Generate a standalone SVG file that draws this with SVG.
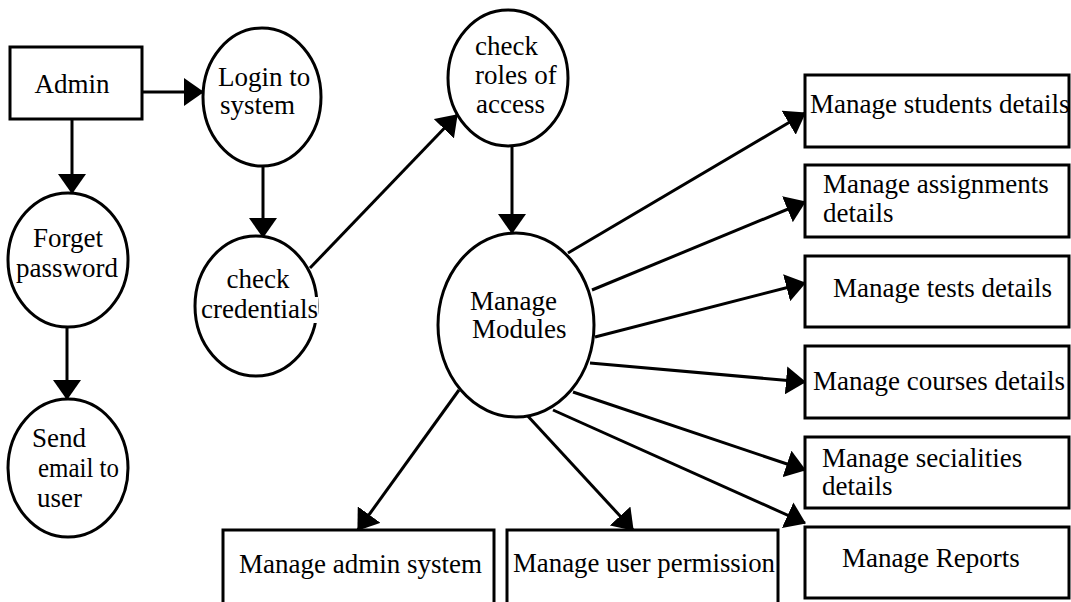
<svg xmlns="http://www.w3.org/2000/svg" width="1071" height="602" viewBox="0 0 1071 602">
  <style>
    .shape { fill: #ffffff; stroke: #000000; stroke-width: 3; }
    .label { font-family: "Liberation Serif", "Times New Roman", serif; font-size: 27px; fill: #000000; }
    .mid { text-anchor: middle; }
    .flow { stroke: #000000; stroke-width: 3; fill: none; marker-end: url(#head); }
  </style>
  <defs>
    <marker id="head" markerUnits="userSpaceOnUse" markerWidth="20" markerHeight="28" refX="19" refY="14" orient="auto" viewBox="0 0 20 28">
      <path d="M0,0 L20,14 L0,28 z" fill="#000000"/>
    </marker>
  </defs>

  <!-- connectors -->
  <g id="connectors">
    <line class="flow" x1="142" y1="92" x2="203" y2="92"/>
    <line class="flow" x1="72" y1="119" x2="72" y2="193"/>
    <line class="flow" x1="67" y1="327" x2="67" y2="399"/>
    <line class="flow" x1="263" y1="166" x2="263" y2="237"/>
    <line class="flow" x1="310" y1="268" x2="457" y2="115"/>
    <line class="flow" x1="512" y1="147" x2="512" y2="233"/>
    <line class="flow" x1="568" y1="253" x2="805" y2="113"/>
    <line class="flow" x1="592" y1="290" x2="805" y2="202"/>
    <line class="flow" x1="595" y1="337" x2="805" y2="283"/>
    <line class="flow" x1="590" y1="363" x2="805" y2="382"/>
    <line class="flow" x1="573" y1="392" x2="805" y2="470"/>
    <line class="flow" x1="553" y1="410" x2="805" y2="523"/>
    <line class="flow" x1="459" y1="390" x2="358" y2="530"/>
    <line class="flow" x1="525" y1="413" x2="633" y2="530"/>
  </g>

  <!-- left column -->
  <g id="admin">
    <rect class="shape" x="10" y="47" width="132" height="72"/>
    <text class="label mid" x="72" y="93">Admin</text>
  </g>
  <g id="forget-password">
    <ellipse class="shape" cx="68" cy="260" rx="60" ry="67"/>
    <text class="label mid" x="68" y="247">Forget</text>
    <text class="label mid" x="67" y="277">password</text>
  </g>
  <g id="send-email">
    <ellipse class="shape" cx="68" cy="468" rx="60" ry="69"/>
    <text class="label" x="32" y="447">Send</text>
    <text class="label" x="38" y="477" textLength="81" lengthAdjust="spacingAndGlyphs">email to</text>
    <text class="label" x="37" y="507">user</text>
  </g>

  <!-- login path -->
  <g id="login">
    <ellipse class="shape" cx="262" cy="97" rx="59" ry="69"/>
    <text class="label" x="218" y="86">Login to</text>
    <text class="label" x="220" y="114">system</text>
  </g>
  <g id="check-credentials">
    <ellipse class="shape" cx="256" cy="306" rx="61" ry="70"/>
    <text class="label mid" x="258" y="288">check</text>
    <rect x="200" y="297" width="118" height="26" fill="#ffffff"/>
    <text class="label" x="201" y="318">credentials</text>
  </g>
  <g id="check-roles">
    <ellipse class="shape" cx="508" cy="78" rx="60" ry="68"/>
    <text class="label" x="475" y="55">check</text>
    <text class="label" x="475" y="84">roles of</text>
    <text class="label" x="476" y="113">access</text>
  </g>
  <g id="manage-modules">
    <ellipse class="shape" cx="516" cy="325" rx="78" ry="92"/>
    <text class="label" x="470" y="310">Manage</text>
    <text class="label" x="472" y="338">Modules</text>
  </g>

  <!-- module boxes, right -->
  <g id="students">
    <rect class="shape" x="805" y="75" width="264" height="72"/>
    <text class="label" x="810" y="113">Manage students details</text>
  </g>
  <g id="assignments">
    <rect class="shape" x="805" y="165" width="264" height="72"/>
    <text class="label" x="823" y="193">Manage assignments</text>
    <text class="label" x="823" y="222">details</text>
  </g>
  <g id="tests">
    <rect class="shape" x="805" y="256" width="264" height="71"/>
    <text class="label" x="833" y="297">Manage tests details</text>
  </g>
  <g id="courses">
    <rect class="shape" x="805" y="346" width="264" height="72"/>
    <text class="label" x="813" y="390">Manage courses details</text>
  </g>
  <g id="specialities">
    <rect class="shape" x="805" y="437" width="264" height="71"/>
    <text class="label" x="822" y="467">Manage secialities</text>
    <text class="label" x="822" y="495">details</text>
  </g>
  <g id="reports">
    <rect class="shape" x="805" y="527" width="264" height="71"/>
    <text class="label" x="842" y="567">Manage Reports</text>
  </g>

  <!-- module boxes, bottom -->
  <g id="admin-system">
    <rect class="shape" x="223" y="530" width="271" height="80"/>
    <text class="label" x="239" y="573">Manage admin system</text>
  </g>
  <g id="user-permission">
    <rect class="shape" x="507" y="530" width="271" height="80"/>
    <text class="label" x="513" y="572" textLength="262" lengthAdjust="spacingAndGlyphs">Manage user permission</text>
  </g>
</svg>
